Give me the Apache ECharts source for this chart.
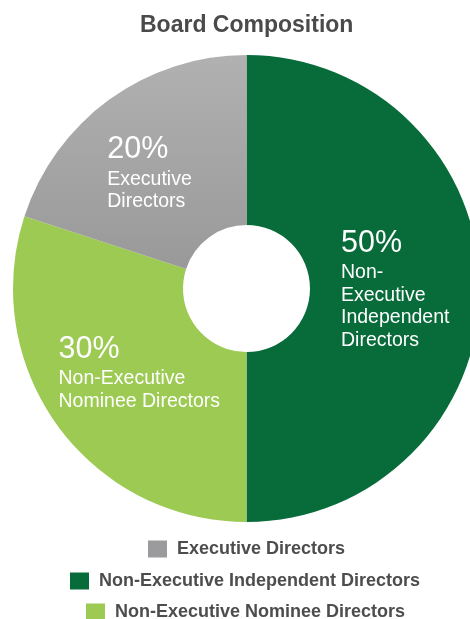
<!DOCTYPE html>
<html>
<head>
<meta charset="utf-8">
<script src="https://cdn.jsdelivr.net/npm/echarts@6/dist/echarts.min.js"></script>
<style>
html,body{margin:0;padding:0;background:#fff;}
#main{width:470px;height:619px;}
</style>
</head>
<body>
<div id="main"></div>
<script>
// Data
var titleText = 'Board Composition';
var categories = ['Non-Executive Independent Directors', 'Non-Executive Nominee Directors', 'Executive Directors'];
var values = [50, 30, 20];
var labelTexts = ['Non-\nExecutive\nIndependent\nDirectors', 'Non-Executive\nNominee Directors', 'Executive\nDirectors'];
var legendOrder = ['Executive Directors', 'Non-Executive Independent Directors', 'Non-Executive Nominee Directors'];

// Styles / layout
var sliceColors = [
  '#076b3a',
  '#9cca52',
  {type: 'linear', x: 0, y: 0, x2: 0, y2: 1, colorStops: [{offset: 0, color: '#b1b1b1'}, {offset: 1, color: '#999999'}]}
];
var legendColors = {'Executive Directors': '#9b9b9d', 'Non-Executive Independent Directors': '#076b3a', 'Non-Executive Nominee Directors': '#9cca52'};
var legendTops = [540, 572, 603];
var legendLefts = [148, 70, 86];
var labelShift = [[28, 0], [19.6, -5.3], [34.8, 6.6]];
var FONT = '"Liberation Sans", Arial, Helvetica, sans-serif';

var chart = echarts.init(document.getElementById('main'), null, {renderer: 'canvas'});

var pieData = categories.map(function (c, i) {
  return {name: c, value: values[i], itemStyle: {color: sliceColors[i]}};
});

var legends = legendOrder.map(function (name, i) {
  return {
    orient: 'horizontal',
    left: legendLefts[i],
    top: legendTops[i],
    padding: 0,
    itemWidth: 19,
    itemHeight: 17,
    icon: 'rect',
    selectedMode: false,
    data: [{name: name, itemStyle: {color: legendColors[name]}}],
    textStyle: {fontFamily: FONT, fontSize: 18, fontWeight: 'bold', color: '#4d4d4d', padding: [0, 0, 0, 5]}
  };
});

var option = {
  animation: false,
  backgroundColor: '#ffffff',
  title: {
    text: titleText,
    left: 140,
    top: 14,
    padding: 0,
    textStyle: {fontFamily: FONT, fontSize: 23, fontWeight: 'bold', color: '#4a4a4a'}
  },
  legend: legends,
  series: [{
    type: 'pie',
    center: [246.5, 288.5],
    radius: [63.5, 233.5],
    startAngle: 90,
    clockwise: true,
    avoidLabelOverlap: false,
    silent: true,
    emphasis: {disabled: true},
    data: pieData,
    label: {
      show: true,
      position: 'inside',
      fontFamily: FONT,
      color: '#ffffff',
      formatter: function (p) {
        return '{p|' + p.value + '%}\n{n|' + labelTexts[p.dataIndex].split('\n').join('}\n{n|') + '}';
      },
      rich: {
        p: {fontFamily: FONT, fontSize: 30.5, lineHeight: 36, color: '#fff', width: 170, align: 'left'},
        n: {fontFamily: FONT, fontSize: 19.5, lineHeight: 22.5, color: '#fff', width: 170, align: 'left'}
      }
    },
    labelLine: {show: false},
    labelLayout: function (params) {
      var s = labelShift[params.dataIndex];
      return {dx: s[0], dy: s[1]};
    }
  }]
};
chart.setOption(option);
</script>
</body>
</html>
